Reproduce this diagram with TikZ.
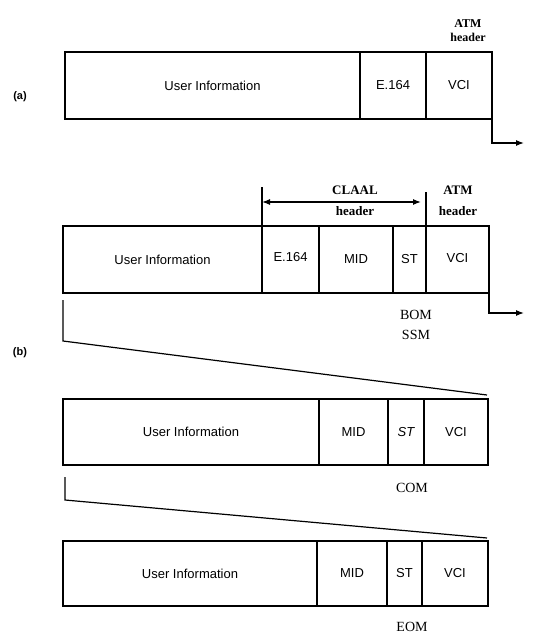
\documentclass[tikz,border=0pt]{standalone}
\usepackage{fontspec}
\setmainfont{Liberation Sans}
\newfontfamily\tagfont{Liberation Serif}
\usetikzlibrary{arrows.meta, positioning}

\begin{document}
\begin{tikzpicture}[x=1pt, y=-1pt,
    field/.style={rectangle, draw=black, line width=1.2pt, inner sep=0pt, outer sep=0pt, minimum height=#1, font=\fontsize{13}{15}\selectfont},
    field/.default=67pt,
    tag/.style={align=center, inner sep=0pt, font=\tagfont\fontsize{14}{20}\selectfont},
    hdr/.style={align=center, inner sep=0pt, font=\tagfont\bfseries\fontsize{13}{21}\selectfont},
    line/.style={draw, line width=1.2pt},
    exitline/.style={draw, line width=1.2pt, -{Latex[length=8pt, width=6pt]}}
]
\useasboundingbox (0,0) rectangle (559,641);

% (a) cell
\node[field, minimum width=295pt, anchor=north west] (userA) at (65,52) {User Information};
\node[field, minimum width=66pt, right=0pt of userA] (e164A) {E.164};
\node[field, minimum width=66pt, right=0pt of e164A] (vciA) {VCI};
\node[hdr, font=\tagfont\bfseries\fontsize{12}{14}\selectfont] (atmA) at (468,31) {ATM\\header};
\node[font=\bfseries\fontsize{11}{12}\selectfont] (labA) at (20,97) {(a)};
\coordinate (exitA) at (524,143);
\path [exitline] (vciA.south east) |- (exitA);

% (b) BOM / SSM cell
\node[field, minimum width=199pt, anchor=north west] (userB) at (63,226) {User Information};
\node[field, minimum width=57pt, right=0pt of userB] (e164B) {\raisebox{5pt}{E.164}};
\node[field, minimum width=74pt, right=0pt of e164B] (midB) {MID};
\node[field, minimum width=33pt, right=0pt of midB] (stB) {ST};
\node[field, minimum width=63pt, right=0pt of stB] (vciB) {\raisebox{4pt}{VCI}};
\coordinate (claalL) at (262,187);
\coordinate (claalR) at (425,192);
\path [line] (e164B.north west) -- (e164B.north west |- claalL);
\path [line] (stB.north east) -- (stB.north east |- claalR);
\path [draw, line width=1.2pt, {Latex[length=8pt, width=6pt]}-{Latex[length=8pt, width=6pt]}] (e164B.north west |- 0,202) -- ([xshift=-5pt]stB.north east |- 0,202);
\node[hdr] (claal) at (355,201) {CLAAL\\header};
\node[hdr] (atmB) at (458,201) {ATM\\header};
\node[tag] (bom) at (416,325) {BOM\\SSM};
\node[font=\bfseries\fontsize{11}{12}\selectfont] (labB) at (20,353) {(b)};
\coordinate (exitB) at (524,313);
\path [exitline] (vciB.south east) |- (exitB);

% (b) COM cell
\node[field=66pt, minimum width=256pt, anchor=north west] (userC) at (63,399) {User Information};
\node[field=66pt, minimum width=69pt, right=0pt of userC] (midC) {MID};
\node[field=66pt, minimum width=36pt, right=0pt of midC] (stC) {\itshape ST};
\node[field=66pt, minimum width=64pt, right=0pt of stC] (vciC) {VCI};
\node[tag] (com) at (412,488) {COM};
\coordinate (tapB) at (63,300);
\coordinate (kneeB) at (63,341);
\path [line] (tapB) -- (kneeB) -- ([yshift=4pt, xshift=-1pt]vciC.north east);

% (b) EOM cell
\node[field=65pt, minimum width=254pt, anchor=north west] (userD) at (63,541) {User Information};
\node[field=65pt, minimum width=70pt, right=0pt of userD] (midD) {MID};
\node[field=65pt, minimum width=35pt, right=0pt of midD] (stD) {ST};
\node[field=65pt, minimum width=66pt, right=0pt of stD] (vciD) {VCI};
\node[tag] (eom) at (412,627) {EOM};
\coordinate (tapC) at (65,477);
\coordinate (kneeC) at (65,500);
\path [line] (tapC) -- (kneeC) -- ([yshift=3pt, xshift=-1pt]vciD.north east);

\end{tikzpicture}
\end{document}
